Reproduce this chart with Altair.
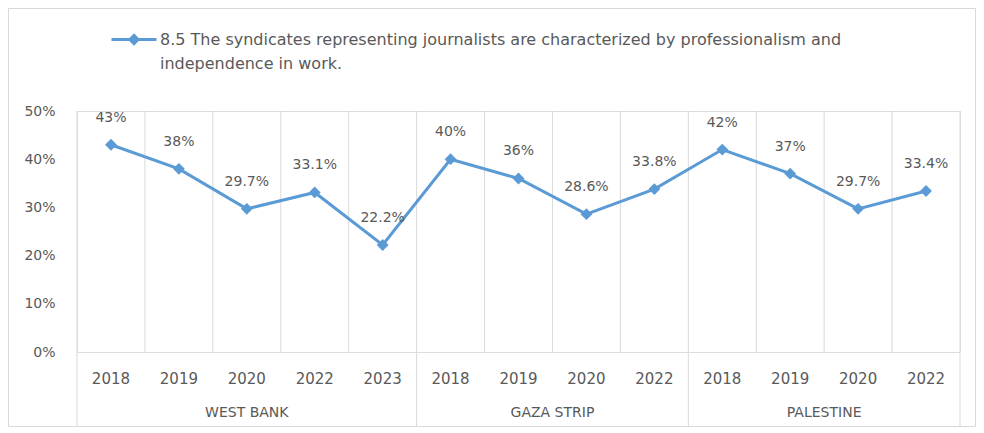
import altair as alt
import pandas as pd

# ---- data ----
groups = ["WEST BANK"] * 5 + ["GAZA STRIP"] * 4 + ["PALESTINE"] * 4
years = ["2018", "2019", "2020", "2022", "2023",
         "2018", "2019", "2020", "2022",
         "2018", "2019", "2020", "2022"]
values = [43, 38, 29.7, 33.1, 22.2, 40, 36, 28.6, 33.8, 42, 37, 29.7, 33.4]
value_labels = ["43%", "38%", "29.7%", "33.1%", "22.2%", "40%", "36%",
                "28.6%", "33.8%", "42%", "37%", "29.7%", "33.4%"]
series_name = ("8.5 The syndicates representing journalists are characterized "
               "by professionalism and independence in work.")
legend_lines = ["8.5 The syndicates representing journalists are characterized by professionalism and",
                "independence in work."]
y_ticks = [0, 0.1, 0.2, 0.3, 0.4, 0.5]

# ---- tables ----
df = pd.DataFrame({
    "pos": [i + 0.5 for i in range(len(values))],
    "value": [v / 100 for v in values],
    "label": value_labels,
    "year": years,
    "group": groups,
    "series": series_name,
})
grp = df.groupby("group", sort=False)["pos"].agg(["min", "max", "mean"]).reset_index()
grp_df = pd.DataFrame({"group": grp["group"], "center": grp["mean"]})
bounds_all = pd.DataFrame({"b": list(range(len(values) + 1))})
grp_edges = sorted(set([0] + [int(m + 0.5) for m in grp["max"]]))
bounds_grp = pd.DataFrame({"b": grp_edges})

W, H = 883, 241
TXT = "#595959"
GRID = "#d9d9d9"
BLUE = "#5B9BD5"
FONT = "DejaVu Sans"

xs = alt.Scale(domain=[0, len(values)], nice=False, zero=False)
ys = alt.Scale(domain=[0, 0.5], nice=False)

frame = alt.Chart(pd.DataFrame({"k": [0]})).mark_rect(
    filled=False, stroke=GRID, strokeWidth=1
).encode(x=alt.value(-68.5), x2=alt.value(W + 15.5),
         y=alt.value(-102.5), y2=alt.value(H + 74.5))

vgrid = alt.Chart(bounds_all).mark_rule(color=GRID, strokeWidth=1).encode(
    x=alt.X("b:Q", scale=xs, axis=None),
    y=alt.value(0), y2=alt.value(H))

vgrid_grp = alt.Chart(bounds_grp).mark_rule(color=GRID, strokeWidth=1).encode(
    x=alt.X("b:Q", scale=xs, axis=None),
    y=alt.value(H), y2=alt.value(H + 76))

line = alt.Chart(df).mark_line(
    strokeWidth=3,
    point=alt.OverlayMarkDef(shape="diamond", size=140, filled=True, color=BLUE),
).encode(
    x=alt.X("pos:Q", scale=xs,
            axis=alt.Axis(title=None, labels=False, ticks=False, grid=False,
                          domain=True, domainColor=GRID, domainWidth=1.5)),
    y=alt.Y("value:Q", scale=ys,
            axis=alt.Axis(title=None, values=y_ticks, format=".0%", grid=False,
                          ticks=False, domain=False, labelPadding=22,
                          labelFontSize=14, labelColor=TXT, labelFont=FONT)),
    color=alt.Color(
        "series:N",
        scale=alt.Scale(range=[BLUE]),
        legend=alt.Legend(
            title=None, orient="none", legendX=33, legendY=-95.5, padding=0,
            symbolType="M-1,0L1,0M-0.18,0L0,-0.18L0.18,0L0,0.18Z",
            symbolSize=2025, symbolStrokeWidth=3, symbolStrokeColor=BLUE,
            symbolFillColor=BLUE,
            labelExpr="[" + ", ".join("'" + s + "'" for s in legend_lines) + "]",
            labelFontSize=16, labelFont=FONT, labelColor=TXT, labelLimit=0,
            labelOffset=2, labelBaseline="middle",
        ),
    ),
)

dlabels = alt.Chart(df).mark_text(
    dy=-27, fontSize=14, font=FONT, color=TXT, baseline="middle"
).encode(x=alt.X("pos:Q", scale=xs), y=alt.Y("value:Q", scale=ys), text="label:N")

ylabels = alt.Chart(df).mark_text(
    fontSize=15, font=FONT, color=TXT, baseline="middle"
).encode(x=alt.X("pos:Q", scale=xs), y=alt.value(H + 27), text="year:N")

glabels = alt.Chart(grp_df).mark_text(
    fontSize=14, font=FONT, color=TXT, baseline="middle"
).encode(x=alt.X("center:Q", scale=xs), y=alt.value(H + 61), text="group:N")

chart = alt.layer(frame, vgrid, vgrid_grp, line, dlabels, ylabels, glabels).properties(
    width=W, height=H,
    autosize=alt.AutoSizeParams(type="none"),
    padding={"left": 69, "top": 103, "right": 16, "bottom": 75},
).configure_view(stroke=None).configure(
    background="white",
    style={"guide-label": {"lineHeight": 24}},
)

chart.save("out.html", embed_options={"renderer": "svg", "actions": False})
